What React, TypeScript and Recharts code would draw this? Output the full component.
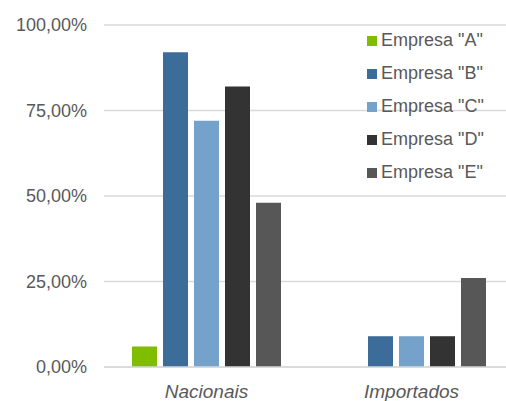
import { Bar, BarChart, CartesianGrid, XAxis, YAxis } from 'recharts';

const categories = ['Nacionais', 'Importados'];
const empresaA = [6, 0];
const empresaB = [92, 9];
const empresaC = [72, 9];
const empresaD = [82, 9];
const empresaE = [48, 26];
const yTicks = [0, 25, 50, 75, 100];

const series = [
  { key: 'a', name: 'Empresa "A"', color: '#80bc00', values: empresaA },
  { key: 'b', name: 'Empresa "B"', color: '#3b6c9a', values: empresaB },
  { key: 'c', name: 'Empresa "C"', color: '#74a2cb', values: empresaC },
  { key: 'd', name: 'Empresa "D"', color: '#333333', values: empresaD },
  { key: 'e', name: 'Empresa "E"', color: '#575757', values: empresaE },
];

const data = categories.map((name, i) => {
  const row: Record<string, string | number> = { name };
  series.forEach((s) => {
    row[s.key] = s.values[i];
  });
  return row;
});

const pct = (v: number) => `${v.toFixed(2).replace('.', ',')}%`;

function LegendList() {
  return (
    <div style={{ position: 'absolute', left: 367, top: 24, display: 'flex', flexDirection: 'column' }}>
      {series.map((s) => (
        <div
          key={s.key}
          style={{ display: 'flex', alignItems: 'center', height: 33, color: '#595959', fontSize: 18 }}
        >
          <span style={{ width: 10, height: 10, background: s.color, marginRight: 4, display: 'inline-block' }} />
          {s.name}
        </div>
      ))}
    </div>
  );
}

export default function App() {
  return (
    <div
      style={{
        position: 'fixed',
        left: 0,
        top: 0,
        width: 506,
        height: 401,
        overflow: 'hidden',
        background: '#fff',
        fontFamily: '"Liberation Sans", Arial, sans-serif',
      }}
    >
      <BarChart
        width={514}
        height={401}
        data={data}
        margin={{ top: 25, right: 0, bottom: 0, left: 0 }}
        barCategoryGap={28}
        barGap={6}
      >
        <CartesianGrid vertical={false} stroke="#d9d9d9" strokeWidth={1.5} />
        <XAxis
          dataKey="name"
          height={34}
          axisLine={{ stroke: '#d9d9d9', strokeWidth: 1.5 }}
          tickLine={false}
          tickSize={0}
          tickMargin={18}
          tick={{ fill: '#595959', fontSize: 19, fontStyle: 'italic' }}
        />
        <YAxis
          width={104}
          domain={[0, 100]}
          ticks={yTicks}
          tickFormatter={pct}
          axisLine={false}
          tickLine={false}
          tickSize={0}
          tickMargin={17}
          tick={{ fill: '#595959', fontSize: 18 }}
        />
        {series.map((s) => (
          <Bar key={s.key} dataKey={s.key} name={s.name} fill={s.color} isAnimationActive={false} />
        ))}
      </BarChart>
      <LegendList />
    </div>
  );
}
